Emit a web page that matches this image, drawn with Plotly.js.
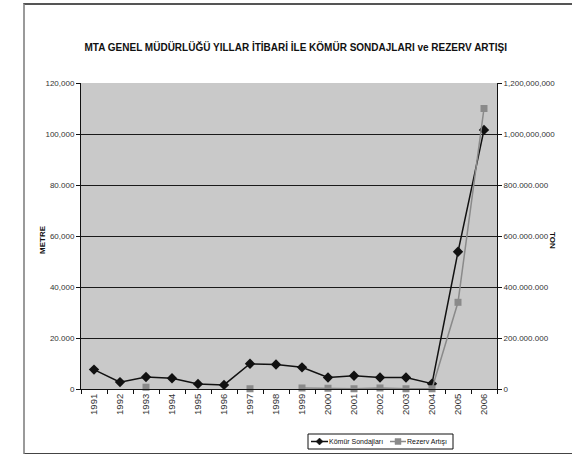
<!DOCTYPE html>
<html>
<head>
<meta charset="utf-8">
<script src="https://cdn.plot.ly/plotly-3.0.1.min.js"></script>
<style>
html,body{margin:0;padding:0;background:#fff;}
#frame{position:absolute;left:23px;top:3px;width:570px;height:448px;border-left:2px solid #9a9a9a;border-top:2px solid #555;border-bottom:2px solid #444;}
#chart{position:absolute;left:0;top:0;width:572px;height:454px;}
</style>
</head>
<body>
<div id="frame"></div>
<div id="chart"></div>
<script>
const years = ["1991","1992","1993","1994","1995","1996","1997","1998","1999","2000","2001","2002","2003","2004","2005","2006"];
const komurSondajlari = [7600, 2700, 4700, 4200, 2000, 1600, 9900, 9600, 8500, 4500, 5200, 4500, 4500, 2100, 53800, 101600];
const rezervArtisi = [null, null, 7000000, null, null, null, 1000000, null, 4000000, 3000000, 1000000, 4000000, 1000000, 1000000, 340000000, 1100000000];
const seriesNames = ["Kömür Sondajları", "Rezerv Artışı"];
const leftTickVals = [0, 20000, 40000, 60000, 80000, 100000, 120000];
const leftTickText = ["0", "20.000", "40,000", "60,000", "80.000", "100,000", "120,000"];
const rightTickVals = [0, 200000000, 400000000, 600000000, 800000000, 1000000000, 1200000000];
const rightTickText = ["0", "200.000.000", "400.000.000", "600.000.000", "800.000.000", "1,000,000,000", "1,200,000,000"];

const FONT = '"Liberation Sans Narrow", "Arial Narrow", "Liberation Sans", Arial, sans-serif';
const C1 = "#111", C2 = "#8a8a8a";

// plot area in pixels
const PL = 81, PR = 497, PT = 83, PB = 389;
const px = v => (v - PL) / (PR - PL);
const py = v => (PB - v) / (PB - PT);

const traces = [
  {
    x: years, y: komurSondajlari, name: seriesNames[0], type: "scatter", mode: "lines+markers",
    line: {color: C1, width: 1.5},
    marker: {symbol: "diamond", size: 8, color: C1},
    cliponaxis: false, yaxis: "y"
  },
  {
    x: years, y: rezervArtisi, name: seriesNames[1], type: "scatter", mode: "lines+markers",
    line: {color: C2, width: 1.5},
    marker: {symbol: "square", size: 7, color: C2},
    connectgaps: false, cliponaxis: false, yaxis: "y2"
  }
];

// hand-drawn legend (Excel style)
const legY = 441.5;
const shapes = [
  {type: "rect", xref: "paper", yref: "paper", x0: px(308), x1: px(453), y0: py(449), y1: py(434),
   line: {color: "#111", width: 1}, fillcolor: "#fff", layer: "above"},
  {type: "line", xref: "paper", yref: "paper", x0: px(311), x1: px(328), y0: py(legY), y1: py(legY),
   line: {color: C1, width: 1.5}},
  {type: "path", xref: "paper", yref: "paper",
   path: `M ${px(319.5)} ${py(legY-3.5)} L ${px(323)} ${py(legY)} L ${px(319.5)} ${py(legY+3.5)} L ${px(316)} ${py(legY)} Z`,
   fillcolor: C1, line: {color: C1, width: 0.5}},
  {type: "line", xref: "paper", yref: "paper", x0: px(390), x1: px(406), y0: py(legY), y1: py(legY),
   line: {color: C2, width: 1.5}},
  {type: "rect", xref: "paper", yref: "paper", x0: px(395), x1: px(401), y0: py(legY+3), y1: py(legY-3),
   fillcolor: C2, line: {color: C2, width: 0.5}}
];

const layout = {
  width: 572, height: 454,
  margin: {l: PL, r: 572 - PR, t: PT, b: 454 - PB},
  paper_bgcolor: "rgba(0,0,0,0)",
  plot_bgcolor: "#c9c9c9",
  font: {family: FONT, size: 8, color: "#222"},
  showlegend: false,
  title: {
    text: "<b>MTA GENEL MÜDÜRLÜĞÜ YILLAR İTİBARİ İLE KÖMÜR SONDAJLARI ve REZERV ARTIŞI</b>",
    font: {family: FONT, size: 10, color: "#111"},
    x: 0.517, xanchor: "center", y: 1 - 47/454, yanchor: "middle"
  },
  xaxis: {
    type: "category", tickson: "boundaries", ticks: "outside", ticklen: 4, tickcolor: "#111",
    tickangle: -90, showgrid: false, showline: true, linecolor: "#111", linewidth: 1,
    tickfont: {family: FONT, size: 9.5, color: "#333"}, zeroline: false,
    range: [-0.5, 15.5], automargin: false
  },
  yaxis: {
    range: [0, 120000], tickvals: leftTickVals, ticktext: leftTickText,
    ticks: "outside", ticklen: 4, tickcolor: "#111",
    showgrid: true, gridcolor: "#1a1a1a", gridwidth: 1,
    showline: true, linecolor: "#111", linewidth: 1, zeroline: false,
    tickfont: {family: FONT, size: 8, color: "#333"}, automargin: false
  },
  yaxis2: {
    range: [0, 1200000000], tickvals: rightTickVals, ticktext: rightTickText,
    overlaying: "y", side: "right",
    ticks: "outside", ticklen: 4, tickcolor: "#111",
    showgrid: false, showline: true, linecolor: "#111", linewidth: 1, zeroline: false,
    tickfont: {family: FONT, size: 8, color: "#333"}, automargin: false
  },
  shapes: shapes,
  annotations: [
    {text: "<b>METRE</b>", xref: "paper", yref: "paper", x: px(42), y: py(240),
     xanchor: "center", yanchor: "middle",
     showarrow: false, textangle: -90, font: {family: FONT, size: 8, color: "#111"}},
    {text: "<b>TON</b>", xref: "paper", yref: "paper", x: px(553), y: py(240),
     xanchor: "center", yanchor: "middle",
     showarrow: false, textangle: 90, font: {family: FONT, size: 8, color: "#111"}},
    {text: seriesNames[0], xref: "paper", yref: "paper", x: px(328), y: py(legY),
     xanchor: "left", yanchor: "middle", showarrow: false, borderpad: 0,
     font: {family: FONT, size: 7, color: "#111"}},
    {text: seriesNames[1], xref: "paper", yref: "paper", x: px(406), y: py(legY),
     xanchor: "left", yanchor: "middle", showarrow: false, borderpad: 0,
     font: {family: FONT, size: 7, color: "#111"}}
  ]
};

Plotly.newPlot("chart", traces, layout, {displayModeBar: false, staticPlot: true});
</script>
</body>
</html>
